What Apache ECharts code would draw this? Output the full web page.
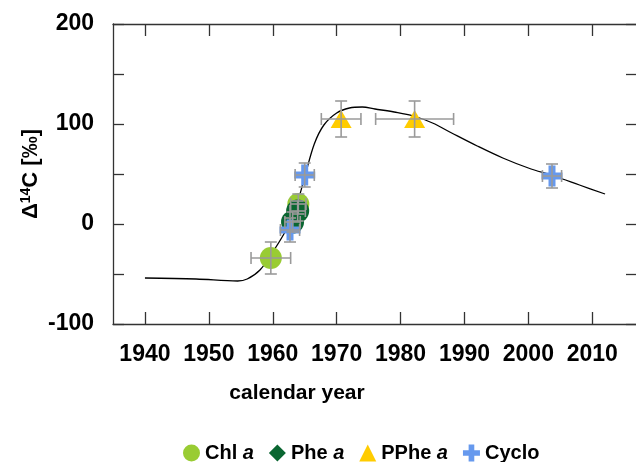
<!DOCTYPE html>
<html>
<head>
<meta charset="utf-8">
<script src="https://cdn.jsdelivr.net/npm/echarts@6/dist/echarts.min.js"></script>
<style>
  html, body { margin: 0; padding: 0; background: #fff; }
  #chart { width: 636px; height: 462px; }
</style>
</head>
<body>
<div id="chart"></div>
<script>
// atmospheric bomb curve
var curveYear = [1940, 1948, 1954.5, 1956, 1958, 1960, 1962, 1963.5, 1965, 1966.5, 1968, 1970, 1972, 1974, 1976, 1979, 1982, 1985, 1988, 1992, 1996, 2000, 2004, 2008, 2012];
var curveD14C = [-54, -55, -57, -55, -46, -28, -7, 14, 47, 80, 99, 111, 116, 117, 115, 112, 108, 101, 91, 78, 66, 56, 48, 39, 30];

// samples: year, value, x error, y error
var chlYear = [1959.7, 1964.0];
var chlD14C = [-34, 20];
var chlXErr = [3.1, 1.2];
var chlYErr = [16, 10];

var pheYear = [1963.9, 1963.1];
var pheD14C = [13, 2];
var pheXErr = [1.2, 1.2];
var pheYErr = [10, 10];

var ppheYear = [1970.7, 1982.2];
var ppheD14C = [105, 105];
var ppheXErr = [3.1, 6.1];
var ppheYErr = [18, 18];

var cycYear = [1965.0, 1962.7, 2003.7];
var cycD14C = [49, -6, 48];
var cycXErr = [1.5, 1.5, 1.5];
var cycYErr = [12, 12, 12];

var yearTicks = [1940, 1950, 1960, 1970, 1980, 1990, 2000, 2010];

var plus = 'path://M1,0H2V1H3V2H2V3H1V2H0V1H1Z';

function pts(xs, ys) {
  return xs.map(function (x, i) { return [x, ys[i]]; });
}
function errPts(xs, ys, xe, ye) {
  return xs.map(function (x, i) { return [x, ys[i], xe[i], ye[i]]; });
}

function renderErr(params, api) {
  var x = api.value(0), y = api.value(1), dx = api.value(2), dy = api.value(3);
  var l = api.coord([x - dx, y]), r = api.coord([x + dx, y]);
  var t = api.coord([x, y + dy]), b = api.coord([x, y - dy]);
  var cap = 6;
  var st = { stroke: '#9a9a9a', lineWidth: 1.6 };
  var ln = function (x1, y1, x2, y2) {
    return { type: 'line', shape: { x1: x1, y1: y1, x2: x2, y2: y2 }, style: st };
  };
  return {
    type: 'group',
    children: [
      ln(l[0], l[1], r[0], r[1]),
      ln(l[0], l[1] - cap, l[0], l[1] + cap),
      ln(r[0], r[1] - cap, r[0], r[1] + cap),
      ln(t[0], t[1], b[0], b[1]),
      ln(t[0] - cap, t[1], t[0] + cap, t[1]),
      ln(b[0] - cap, b[1], b[0] + cap, b[1])
    ]
  };
}

function errSeries(data) {
  return {
    type: 'custom',
    renderItem: renderErr,
    data: data,
    encode: { x: 0, y: 1 },
    z: 5,
    silent: true
  };
}

var myChart = echarts.init(document.getElementById('chart'));

var axisCol = '#333';
var font = 'Liberation Sans, Arial, sans-serif';
var option = {
  animation: false,
  textStyle: { fontFamily: font },
  grid: { left: 113, top: 24, width: 524, height: 300, outerBoundsMode: 'none' },
  legend: {
    left: 183,
    top: 443,
    padding: 0,
    itemWidth: 17,
    itemHeight: 17,
    itemGap: 15,
    data: [
      { name: 'Chl a', icon: 'circle' },
      { name: 'Phe a', icon: 'diamond' },
      { name: 'PPhe a', icon: 'triangle' },
      { name: 'Cyclo', icon: plus }
    ],
    formatter: function (name) {
      var p = name.split(' ');
      return p.length > 1 ? p[0] + ' {i|' + p[1] + '}' : name;
    },
    textStyle: {
      fontSize: 20, fontWeight: 'bold', color: '#000',
      rich: { i: { fontSize: 20, fontWeight: 'bold', fontStyle: 'italic', color: '#000' } }
    }
  },
  xAxis: [{
    type: 'value',
    min: 1935, max: 2017,
    splitLine: { show: false },
    axisLine: { onZero: false, lineStyle: { color: axisCol, width: 1.3 } },
    axisTick: { inside: true, length: 12, customValues: yearTicks, lineStyle: { color: axisCol, width: 1.3 } },
    axisLabel: {
      customValues: yearTicks, margin: 19, fontSize: 23, fontWeight: 'bold', color: '#000',
      formatter: function (v) { return String(v); }
    }
  }, {
    type: 'value',
    position: 'top',
    min: 1935, max: 2017,
    splitLine: { show: false },
    axisLine: { onZero: false, lineStyle: { color: axisCol, width: 1.3 } },
    axisTick: { inside: true, length: 12, customValues: yearTicks, lineStyle: { color: axisCol, width: 1.3 } },
    axisLabel: { show: false }
  }],
  yAxis: [{
    type: 'value',
    min: -100, max: 200, interval: 50,
    splitLine: { show: false },
    axisLine: { show: true, onZero: false, lineStyle: { color: axisCol, width: 1.3 } },
    axisTick: { show: true, inside: true, length: 11, lineStyle: { color: axisCol, width: 1.3 } },
    axisLabel: {
      margin: 19, fontSize: 23, fontWeight: 'bold', color: '#000',
      formatter: function (v) { return v % 100 === 0 ? String(v) : ''; }
    }
  }, {
    type: 'value',
    position: 'right',
    min: -100, max: 200, interval: 50,
    splitLine: { show: false },
    axisLine: { show: true, onZero: false, lineStyle: { color: axisCol, width: 1.3 } },
    axisTick: { show: true, inside: true, length: 11, lineStyle: { color: axisCol, width: 1.3 } },
    axisLabel: { show: false }
  }],
  graphic: [{
    type: 'text',
    x: 297, y: 393,
    style: { text: 'calendar year', fontSize: 21, fontWeight: 'bold', fill: '#000',
      fontFamily: font, align: 'center', verticalAlign: 'middle' }
  }, {
    type: 'text',
    x: 31, y: 174,
    rotation: Math.PI / 2,
    style: {
      text: '{n|Δ}{s|14}{n|C [‰]}',
      align: 'center', verticalAlign: 'middle',
      rich: {
        n: { fontSize: 22, fontWeight: 'bold', fill: '#000', fontFamily: font },
        s: { fontSize: 14, fontWeight: 'bold', fill: '#000', fontFamily: font, verticalAlign: 'top', padding: [0, 0, 9, 0] }
      }
    }
  }],
  series: [
    {
      type: 'line',
      data: pts(curveYear, curveD14C),
      showSymbol: false,
      smooth: 0.35,
      lineStyle: { color: '#000', width: 1.3 },
      z: 2,
      silent: true
    },
    {
      name: 'Chl a', type: 'scatter', symbol: 'circle', symbolSize: 22,
      itemStyle: { color: '#99cc33', opacity: 1 },
      data: pts(chlYear, chlD14C), z: 3
    },
    {
      name: 'Phe a', type: 'scatter', symbol: 'circle', symbolSize: 23,
      itemStyle: { color: '#0a6631', opacity: 1 },
      data: pts(pheYear, pheD14C), z: 3
    },
    {
      name: 'PPhe a', type: 'scatter', symbol: 'triangle', symbolSize: [21, 18],
      itemStyle: { color: '#ffcc00', opacity: 1 },
      data: pts(ppheYear, ppheD14C), z: 3
    },
    {
      name: 'Cyclo', type: 'scatter', symbol: plus, symbolSize: 21,
      itemStyle: { color: '#6699ee', opacity: 1 },
      data: pts(cycYear, cycD14C), z: 3
    },
    errSeries(errPts(chlYear, chlD14C, chlXErr, chlYErr)),
    errSeries(errPts(pheYear, pheD14C, pheXErr, pheYErr)),
    errSeries(errPts(ppheYear, ppheD14C, ppheXErr, ppheYErr)),
    errSeries(errPts(cycYear, cycD14C, cycXErr, cycYErr))
  ]
};

myChart.setOption(option);
</script>
</body>
</html>
